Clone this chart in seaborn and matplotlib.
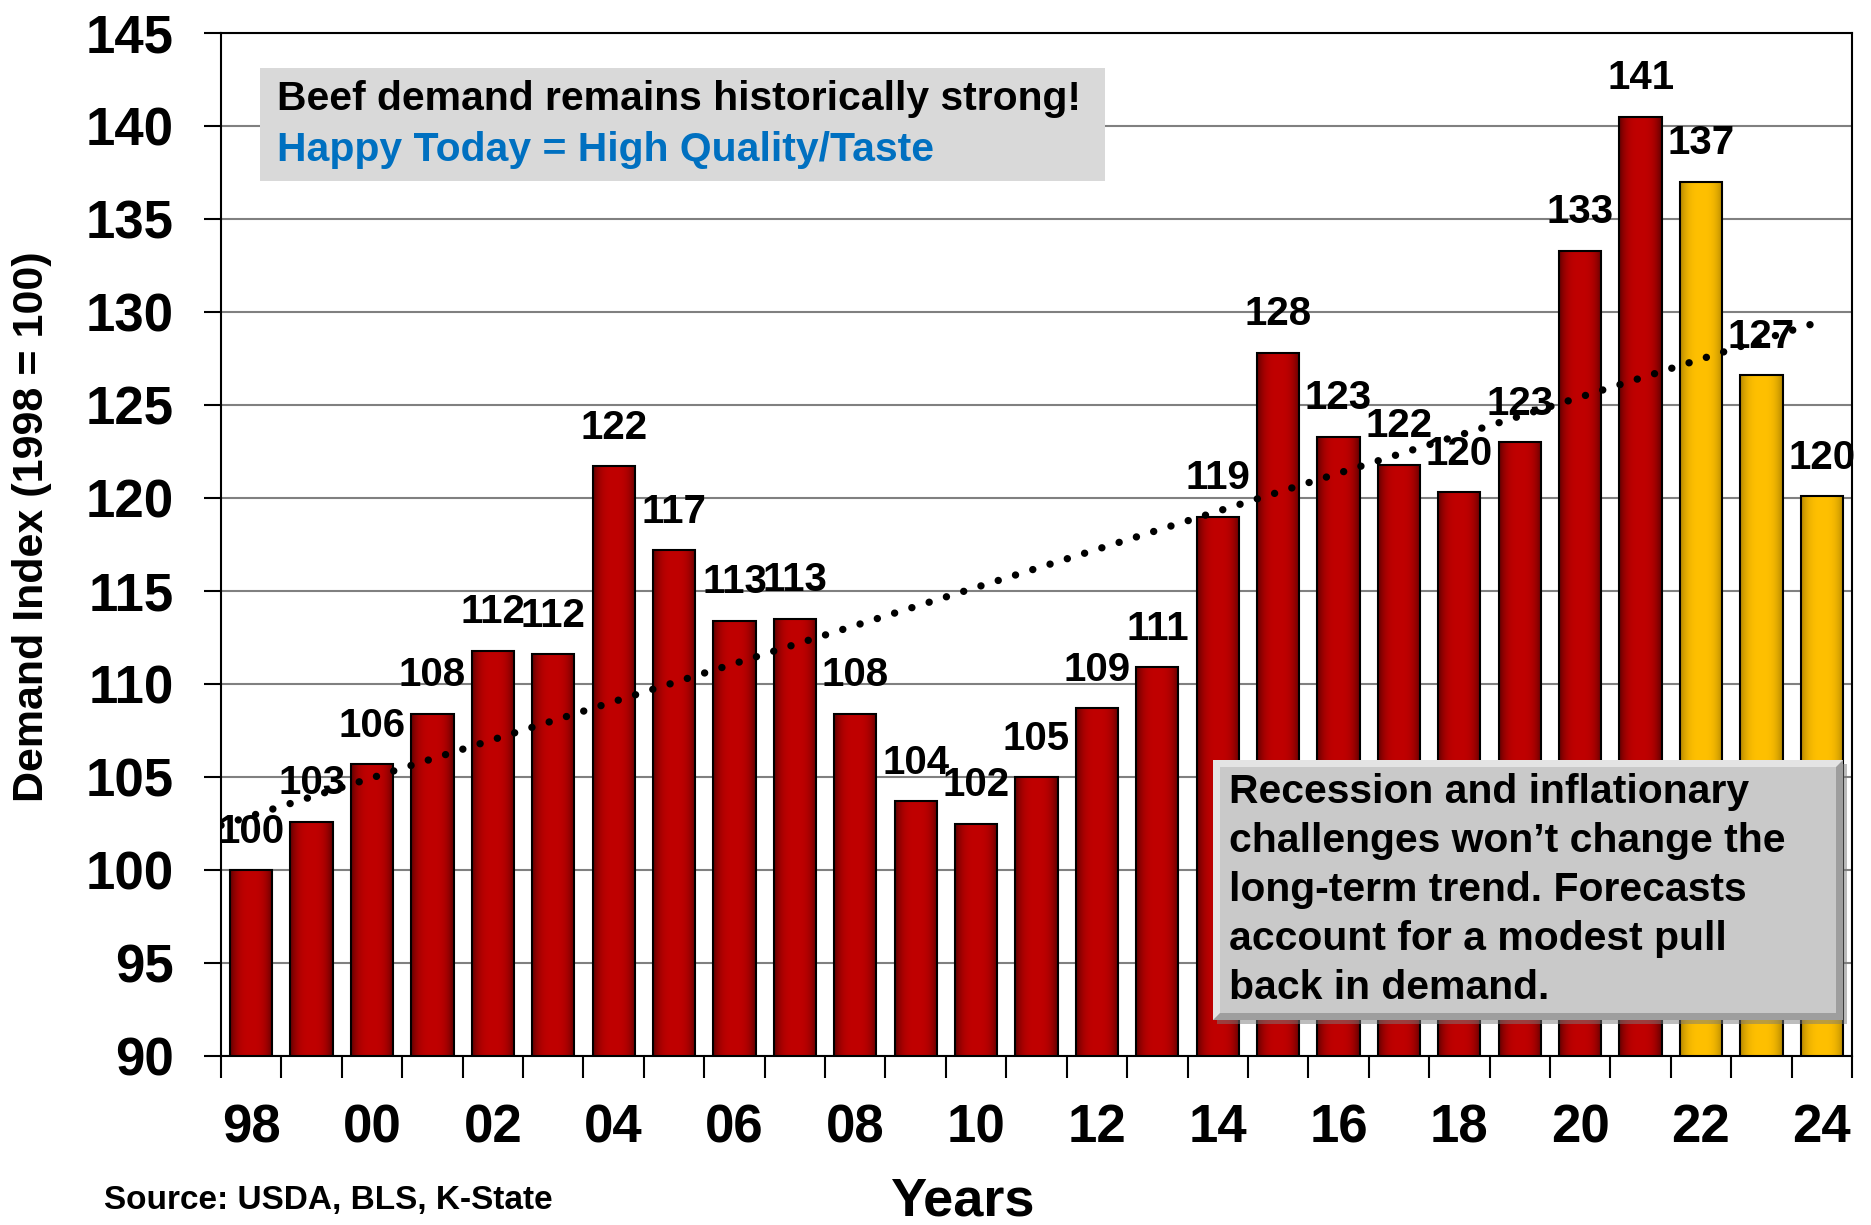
import numpy as np
import pandas as pd
import matplotlib
matplotlib.use('Agg')
import matplotlib.pyplot as plt
import matplotlib.transforms as mtransforms
from matplotlib.patches import Rectangle, Polygon
import seaborn as sns

# data
years = ['1998', '1999', '2000', '2001', '2002', '2003', '2004', '2005', '2006',
         '2007', '2008', '2009', '2010', '2011', '2012', '2013', '2014', '2015',
         '2016', '2017', '2018', '2019', '2020', '2021', '2022', '2023', '2024']
demand_index = [100.0, 102.6, 105.7, 108.4, 111.8, 111.6, 121.7, 117.2, 113.4,
                113.5, 108.4, 103.7, 102.5, 105.0, 108.7, 110.9, 119.0, 127.8,
                123.3, 121.8, 120.3, 123.0, 133.3, 140.5, 137.0, 126.6, 120.1]
bar_labels = ['100', '103', '106', '108', '112', '112', '122', '117', '113',
              '113', '108', '104', '102', '105', '109', '111', '119', '128',
              '123', '122', '120', '123', '133', '141', '137', '127', '120']
forecast_years = ['2022', '2023', '2024']
tick_labels = ['98', '00', '02', '04', '06', '08', '10', '12', '14', '16', '18', '20', '22', '24']
note_lines = ['Recession and inflationary',
              'challenges won\u2019t change the',
              'long-term trend. Forecasts',
              'account for a modest pull',
              'back in demand.']

df = pd.DataFrame({'year': years, 'index': demand_index})
df['period'] = np.where(df['year'].isin(forecast_years), 'forecast', 'actual')

sns.set_theme(style='white')
plt.rcParams['font.family'] = ['Liberation Sans', 'DejaVu Sans']
plt.rcParams['font.weight'] = 'bold'
plt.rcParams['text.color'] = 'black'
plt.rcParams['xtick.color'] = 'black'
plt.rcParams['ytick.color'] = 'black'
plt.rcParams['axes.labelcolor'] = 'black'

W, H = 1871, 1225
fig = plt.figure(figsize=(W / 100, H / 100), dpi=100)
fig.patch.set_facecolor('white')
ax = fig.add_axes([221 / W, 1 - 1056 / H, 1631 / W, 1023 / H])

# pixel coords with origin top-left, for the annotations
px = mtransforms.Affine2D().scale(1 / W, -1 / H).translate(0, 1) + fig.transFigure

sns.barplot(data=df, x='year', y='index', hue='period',
            palette={'actual': '#C00000', 'forecast': '#FFC000'}, saturation=1,
            width=0.7, dodge=False, edgecolor='black', linewidth=1.5,
            legend=False, ax=ax, zorder=2)

# shaded (gradient) fill inside each bar
t = np.linspace(0, 1, 64)
for bar in ax.patches:
    rgb = np.array(bar.get_facecolor()[:3])
    depth = 0.5 if rgb[1] < 0.3 else 0.3
    shade = 1 - depth * np.abs(2 * t - 1) ** 3
    img = np.ones((1, 64, 4))
    img[0, :, :3] = rgb[None, :] * shade[:, None]
    x0, w, h = bar.get_x(), bar.get_width(), bar.get_height()
    im = ax.imshow(img, extent=[x0, x0 + w, 0, h], aspect='auto',
                   interpolation='bilinear', zorder=1.9)
    im.set_clip_path(bar)
    im.set_clip_box(ax.bbox)
    bar.set_facecolor('none')

for cont in ax.containers:
    labs = [bar_labels[int(round(b.get_x() + b.get_width() / 2))] for b in cont]
    ax.bar_label(cont, labels=labs, padding=14, fontsize=29, fontweight='bold',
                 color='black', zorder=3)

# linear trend over all years
xi = np.arange(len(demand_index))
coef = np.polyfit(xi, demand_index, 1)
xs = np.array([-0.5, xi[-1]])
ax.plot(xs, np.polyval(coef, xs), color='black', lw=5.3,
        linestyle=(0, (0.01, 2.45)), dash_capstyle='round', zorder=4)

ax.set_xlim(-0.5, len(years) - 0.5)
ax.set_ylim(90, 145)
ax.set_yticks(range(90, 146, 5))
ax.set_xticks(range(0, len(years), 2))
ax.set_xticklabels(tick_labels)
ax.set_xticks(np.arange(-0.5, len(years), 1), minor=True)
ax.yaxis.grid(True, color='#808080', lw=1.5)
ax.set_axisbelow(True)
ax.tick_params(axis='x', which='major', length=0, pad=34, labelsize=38)
ax.tick_params(axis='x', which='minor', length=16, width=1.5, color='black',
               bottom=True, direction='out')
ax.tick_params(axis='y', length=12, width=1.5, color='black', left=True,
               direction='out', pad=22, labelsize=38)
for s in ax.spines.values():
    s.set_color('black')
    s.set_linewidth(1.5)
ax.set_xlabel('')
ax.set_ylabel('')

fig.text(32, 527, 'Demand Index (1998 = 100)', transform=px, rotation=90,
         ha='center', va='center', fontsize=31, fontweight='bold')
fig.text(962, 1201, 'Years', transform=px, ha='center', va='center',
         fontsize=39, fontweight='bold')
fig.text(104, 1201, 'Source: USDA, BLS, K-State', transform=px, ha='left',
         va='center', fontsize=24, fontweight='bold')

# headline box
fig.add_artist(Rectangle((260, 68), 845, 113, transform=px, facecolor='#D9D9D9',
                         edgecolor='none', zorder=2))
fig.text(277, 99, 'Beef demand remains historically strong!', transform=px,
         ha='left', va='center', fontsize=29.4, fontweight='bold', zorder=3)
fig.text(277, 150, 'Happy Today = High Quality/Taste', transform=px, color='#0070C0',
         ha='left', va='center', fontsize=29.4, fontweight='bold', zorder=3)

# bevelled note box
x0, y0, x1, y1, b = 1213, 760, 1843, 1020, 7
fig.add_artist(Rectangle((x0 + 4, y0 + 4), x1 - x0, y1 - y0, transform=px,
                         facecolor='#7a7a7a', edgecolor='none', alpha=0.5, zorder=2))
fig.add_artist(Rectangle((x0, y0), x1 - x0, y1 - y0, transform=px,
                         facecolor='#9E9E9E', edgecolor='none', zorder=2))
fig.add_artist(Polygon([(x0, y0), (x1, y0), (x1 - b, y0 + b), (x0 + b, y0 + b),
                        (x0 + b, y1 - b), (x0, y1)], transform=px,
                       facecolor='#E4E4E4', edgecolor='none', zorder=2))
fig.add_artist(Rectangle((x0 + b, y0 + b), x1 - x0 - 2 * b, y1 - y0 - 2 * b, transform=px,
                         facecolor='#C9C9C9', edgecolor='none', zorder=2))
for i, line in enumerate(note_lines):
    fig.text(1229, 792 + 49 * i, line, transform=px, ha='left', va='center',
             fontsize=29.4, fontweight='bold', zorder=3)

fig.savefig('out.png', dpi=100)
